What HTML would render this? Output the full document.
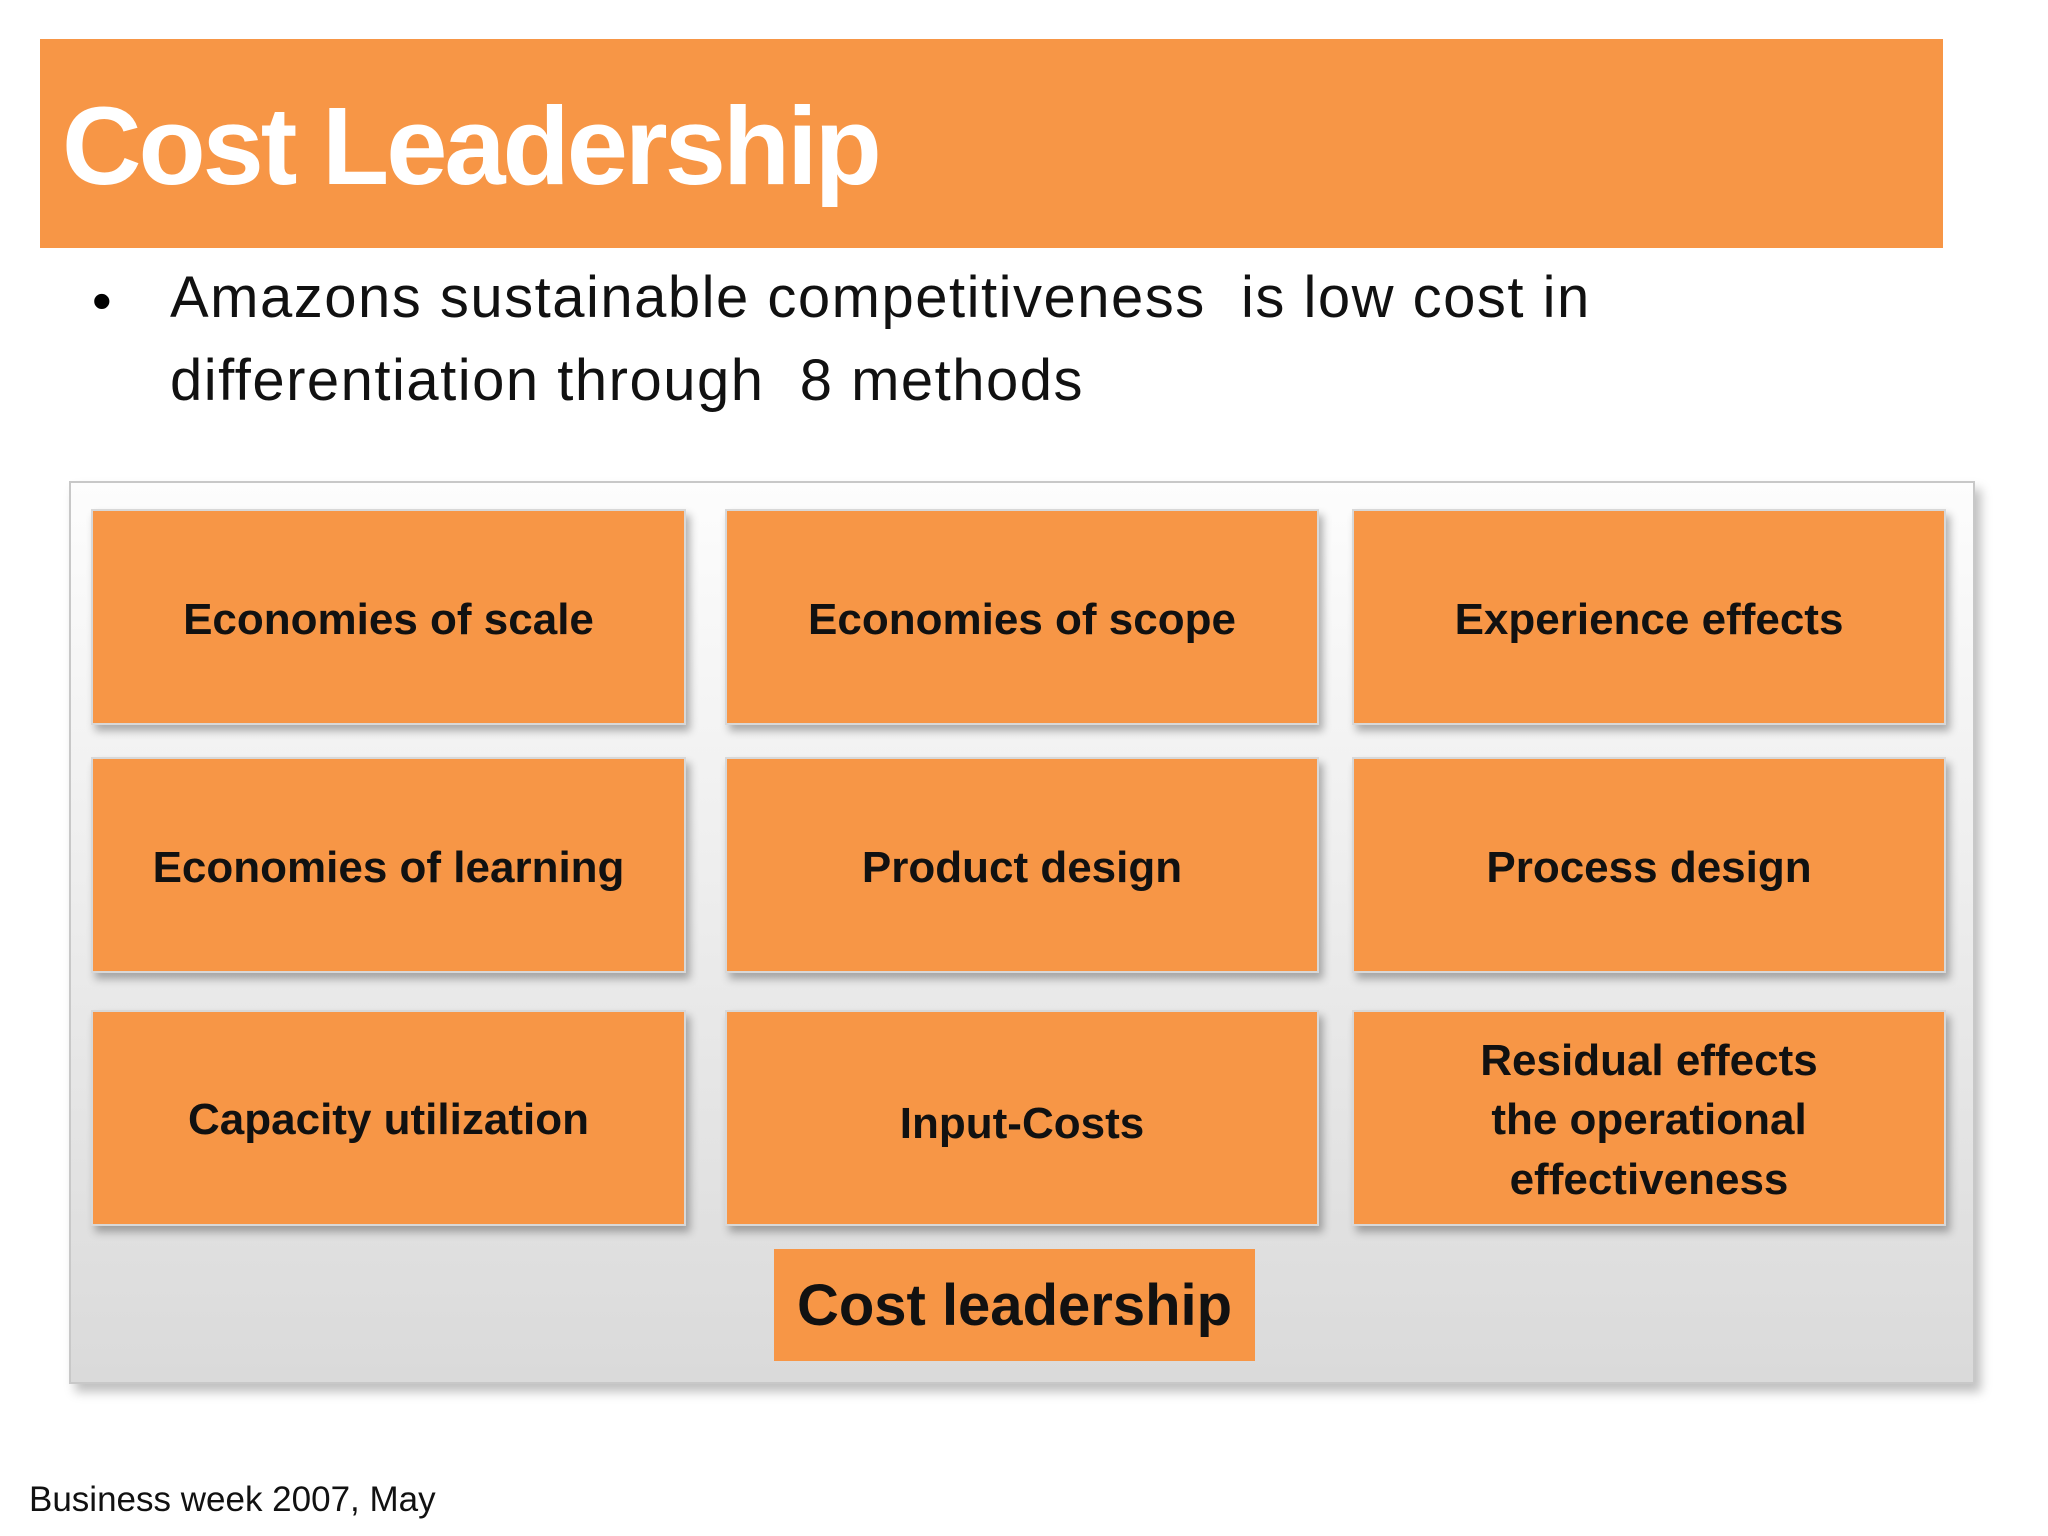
<!DOCTYPE html>
<html><head><meta charset="utf-8"><style>
body{margin:0;width:2048px;height:1536px;background:#fff;position:relative;overflow:hidden;font-family:"Liberation Sans",sans-serif;}
.abs{position:absolute;}
#title{left:40px;top:39px;width:1903px;height:209px;background:#f79646;}
#title span{position:absolute;left:22px;top:44px;color:#fff;font-weight:bold;font-size:110px;letter-spacing:-3px;}
.bl{left:170px;font-size:58px;color:#111;letter-spacing:1.5px;}
#panel{left:69px;top:481px;width:1906px;height:903px;background:linear-gradient(#fdfdfd,#dadada);border:2px solid #c8c8c8;box-shadow:6px 8px 10px rgba(0,0,0,0.25);box-sizing:border-box;}
.box{position:absolute;background:#f79646;border:2px solid #d8d8d8;box-shadow:4px 6px 8px rgba(0,0,0,0.3);box-sizing:border-box;display:flex;align-items:center;justify-content:center;text-align:center;font-weight:bold;font-size:44px;color:#111;line-height:1.35;}
</style></head><body>
<div id="title" class="abs"><span>Cost Leadership</span></div>
<div class="abs" style="left:92px;top:268px;font-size:56px">•</div>
<div class="abs bl" style="top:264px">Amazons sustainable competitiveness&nbsp; is low cost in</div>
<div class="abs bl" style="top:347px">differentiation through&nbsp; 8 methods</div>
<div id="panel" class="abs"></div>
<div class="box" style="left:91px;top:509px;width:595px;height:216px;padding-top:6px">Economies of scale</div>
<div class="box" style="left:725px;top:509px;width:594px;height:216px;padding-top:6px">Economies of scope</div>
<div class="box" style="left:1352px;top:509px;width:594px;height:216px;padding-top:6px">Experience effects</div>
<div class="box" style="left:91px;top:757px;width:595px;height:216px;padding-top:6px">Economies of learning</div>
<div class="box" style="left:725px;top:757px;width:594px;height:216px;padding-top:6px">Product design</div>
<div class="box" style="left:1352px;top:757px;width:594px;height:216px;padding-top:6px">Process design</div>
<div class="box" style="left:91px;top:1010px;width:595px;height:216px;padding-top:4px">Capacity utilization</div>
<div class="box" style="left:725px;top:1010px;width:594px;height:216px;padding-top:12px">Input-Costs</div>
<div class="box" style="left:1352px;top:1010px;width:594px;height:216px;padding-top:4px">Residual effects<br>the operational<br>effectiveness</div>
<div class="abs" style="left:774px;top:1249px;width:481px;height:112px;background:#f79646;display:flex;align-items:center;justify-content:center;font-weight:bold;font-size:58px;color:#111">Cost leadership</div>
<div class="abs" style="left:29px;top:1480px;font-size:35px;color:#111">Business week 2007, May</div>
</body></html>
